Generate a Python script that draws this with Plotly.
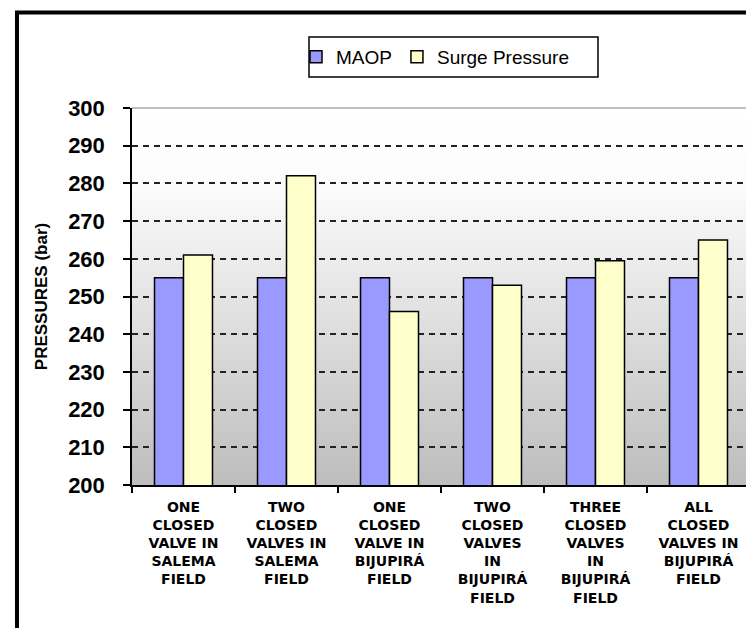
import base64
import plotly.graph_objects as go

categories = [
    "ONE<br>CLOSED<br>VALVE IN<br>SALEMA<br>FIELD",
    "TWO<br>CLOSED<br>VALVES IN<br>SALEMA<br>FIELD",
    "ONE<br>CLOSED<br>VALVE IN<br>BIJUPIRÁ<br>FIELD",
    "TWO<br>CLOSED<br>VALVES<br>IN<br>BIJUPIRÁ<br>FIELD",
    "THREE<br>CLOSED<br>VALVES<br>IN<br>BIJUPIRÁ<br>FIELD",
    "ALL<br>CLOSED<br>VALVES IN<br>BIJUPIRÁ<br>FIELD",
]
maop = [255, 255, 255, 255, 255, 255]
surge = [261, 282, 246, 253, 259.5, 265]
y_ticks = [200, 210, 220, 230, 240, 250, 260, 270, 280, 290, 300]

W, H = 754, 628
L, R, T, B = 124, 742, 100, 477


def px(x):
    return (x - L) / (R - L)


def py(y):
    return (B - y) / (B - T)


fig = go.Figure()
fig.add_trace(go.Bar(name="MAOP", x=categories, y=maop,
                     marker=dict(color="#9999ff", line=dict(color="black", width=1.5))))
fig.add_trace(go.Bar(name="Surge Pressure", x=categories, y=surge,
                     marker=dict(color="#ffffcc", line=dict(color="black", width=1.5))))

svg = ('<svg xmlns="http://www.w3.org/2000/svg" width="10" height="100" preserveAspectRatio="none">'
       '<defs><linearGradient id="g" x1="0" y1="0" x2="0" y2="1">'
       '<stop offset="0" stop-color="#ffffff"/><stop offset="0.2" stop-color="#fcfcfc"/>'
       '<stop offset="1" stop-color="#bdbdbd"/></linearGradient></defs>'
       '<rect width="10" height="100" fill="url(#g)"/></svg>')
src = "data:image/svg+xml;base64," + base64.b64encode(svg.encode()).decode()

fig.update_layout(
    width=W, height=H,
    margin=dict(l=L, r=W - R, t=T, b=H - B),
    paper_bgcolor="white", plot_bgcolor="rgba(0,0,0,0)",
    barmode="group", bargap=0.437, bargroupgap=0,
    showlegend=True,
    legend=dict(orientation="h", x=px(288), y=py(49), xanchor="left", yanchor="middle",
                borderwidth=0, bgcolor="rgba(0,0,0,0)",
                font=dict(family="Liberation Sans, Arial", size=19, color="black"),
                itemwidth=30, tracegroupgap=0),
    images=[dict(source=src, xref="paper", yref="paper", x=0, y=1, sizex=1, sizey=1,
                 xanchor="left", yanchor="top", sizing="stretch", layer="below")],
    xaxis=dict(showline=True, linecolor="black", linewidth=1.5, tickson="boundaries",
               ticks="outside", ticklen=6, tickcolor="black", tickwidth=1.5, showgrid=False,
               tickfont=dict(family="DejaVu Sans", size=14, color="black", weight="bold"),
               ticklabelstandoff=8),
    yaxis=dict(range=[200, 300], tickvals=y_ticks, showline=True, linecolor="black", linewidth=1.5,
               ticks="outside", ticklen=7, tickcolor="black", tickwidth=1.5,
               showgrid=True, gridcolor="#222222", gridwidth=2, griddash="6px,5px",
               tickfont=dict(family="Liberation Sans, Arial", size=22, color="black", weight="bold"),
               ticklabelstandoff=14,
               title=dict(text="PRESSURES (bar)", standoff=16,
                          font=dict(family="Liberation Sans, Arial", size=17, color="black", weight="bold"))),
    shapes=[
        # legend box
        dict(type="rect", xref="paper", yref="paper", x0=px(301), x1=px(590), y0=py(29), y1=py(69),
             line=dict(color="black", width=1.5), fillcolor="white", layer="above"),
        # plot-area top/right light border
        dict(type="line", xref="paper", yref="paper", x0=0, x1=1, y0=1, y1=1,
             line=dict(color="#c0c0c0", width=2), layer="above"),
        dict(type="line", xref="paper", yref="paper", x0=1, x1=1, y0=0, y1=1,
             line=dict(color="#c0c0c0", width=2), layer="above"),
        # outer frame
        dict(type="line", xref="paper", yref="paper", x0=px(9), x1=px(9), y0=py(3), y1=py(628),
             line=dict(color="black", width=4)),
        dict(type="line", xref="paper", yref="paper", x0=px(7), x1=px(754), y0=py(4.5), y1=py(4.5),
             line=dict(color="black", width=4)),
        dict(type="line", xref="paper", yref="paper", x0=px(7), x1=px(754), y0=py(625), y1=py(625),
             line=dict(color="black", width=4)),
    ],
)

fig.write_html("out.html")
